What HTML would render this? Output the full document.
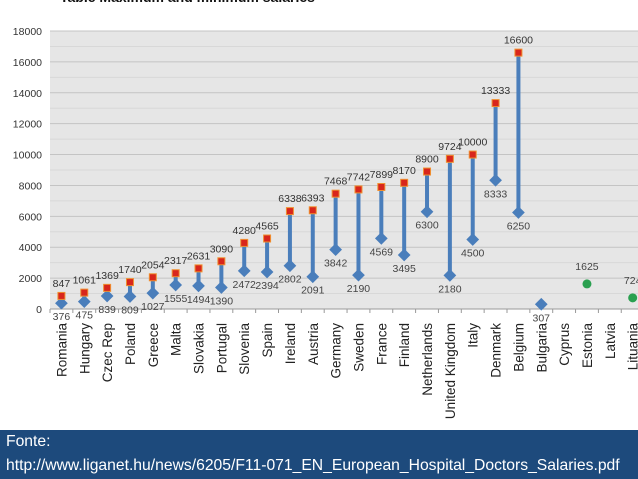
<!DOCTYPE html>
<html><head><meta charset="utf-8"><style>
body{margin:0;width:638px;height:479px;overflow:hidden;background:#fff;font-family:"Liberation Sans",sans-serif}
#foot{position:absolute;left:0;top:430px;width:638px;height:49px;background:#1d4a7c;color:#fff;font-size:15.7px;line-height:24px;padding:0 6px;box-sizing:border-box;white-space:nowrap}
</style></head><body>
<svg id="chart" width="638" height="430" style="position:absolute;left:0;top:0">
<text x="60" y="2" font-size="14" font-weight="bold" fill="#111">Table Maximum and minimum salaries</text>
<g id="g"></g>
</svg>
<div id="foot">Fonte:<br>http://www.liganet.hu/news/6205/F11-071_EN_European_Hospital_Doctors_Salaries.pdf</div>
<script>
const categories=["Romania","Hungary","Czec Rep","Poland","Greece","Malta","Slovakia","Portugal","Slovenia","Spain","Ireland","Austria","Germany","Sweden","France","Finland","Netherlands","United Kingdom","Italy","Denmark","Belgium","Bulgaria","Cyprus","Estonia","Latvia","Lituania"];
const maxValues=[847,1061,1369,1740,2054,2317,2631,3090,4280,4565,6338,6393,7468,7742,7899,8170,8900,9724,10000,13333,16600,null,null,null,null,null];
const minValues=[376,475,839,809,1027,1555,1494,1390,2472,2394,2802,2091,3842,2190,4569,3495,6300,2180,4500,8333,6250,307,null,null,null,null];
const singleValues=[null,null,null,null,null,null,null,null,null,null,null,null,null,null,null,null,null,null,null,null,null,null,null,1625,null,724];
const yTicks=[0,2000,4000,6000,8000,10000,12000,14000,16000,18000];
const NS="http://www.w3.org/2000/svg",g=document.getElementById('g');
const x0=50,band=22.85,y=v=>309-v*(278/18000),cx=i=>x0+(i+0.5)*band;
function mk(t,a,p){const e=document.createElementNS(NS,t);for(const k in a)e.setAttribute(k,a[k]);(p||g).appendChild(e);return e;}
const bg=mk('rect',{x:x0,y:y(18000),width:638-x0,height:y(0)-y(18000),fill:'#e6e6e6'});

for(let v=0;v<=18000;v+=1000){const l=mk('line',{x1:x0,x2:638,y1:y(v),y2:y(v),stroke:v%2000?'#d8d8d8':'#c4c4c4','stroke-width':1});
}
yTicks.forEach(v=>{const t=mk('text',{x:42,y:y(v)+4,'text-anchor':'end','font-size':10.5,fill:'#333'});t.textContent=v;
});
const ax=mk('line',{x1:x0,x2:638,y1:y(0),y2:y(0),stroke:'#999'});
categories.forEach((c,i)=>{
 const tk=mk('line',{x1:x0+i*band,x2:x0+i*band,y1:y(0),y2:y(0)+4,stroke:'#999'});
 
 const t=mk('text',{x:0,y:0,'text-anchor':'end','font-size':13.5,fill:'#222',transform:`translate(${cx(i)+5},323) rotate(-90)`});t.textContent=c;
 
 const mx=maxValues[i],mn=minValues[i],x=cx(i);
 if(mx!=null&&mn!=null){const l=mk('line',{x1:x,x2:x,y1:y(mx),y2:y(mn),stroke:'#4a7ebb','stroke-width':4});
  }
 if(mn!=null){const d=mk('rect',{x:x-4.5,y:y(mn)-4.5,width:9,height:9,fill:'#4a7ebb',transform:`rotate(45 ${x} ${y(mn)})`});
  
  const lt=mk('text',{x:x,y:y(mn)+17,'text-anchor':'middle','font-size':10.5,fill:'#444'});lt.textContent=mn;
  }
 if(mx!=null){const s=mk('rect',{x:x-3.5,y:y(mx)-3.5,width:7,height:7,fill:'#d8261c',stroke:'#f09030','stroke-width':1});
  
  const lt=mk('text',{x:x,y:y(mx)-9,'text-anchor':'middle','font-size':10.5,fill:'#333'});lt.textContent=mx;
  }
 const sv=singleValues[i];
 if(sv!=null){const p=mk('circle',{cx:x,cy:y(sv),r:4.5,fill:'#2aa050'});
  
  const lt=mk('text',{x:x,y:y(sv)-14,'text-anchor':'middle','font-size':10.5,fill:'#444'});lt.textContent=sv;
  }
});
</script>
</body></html>
